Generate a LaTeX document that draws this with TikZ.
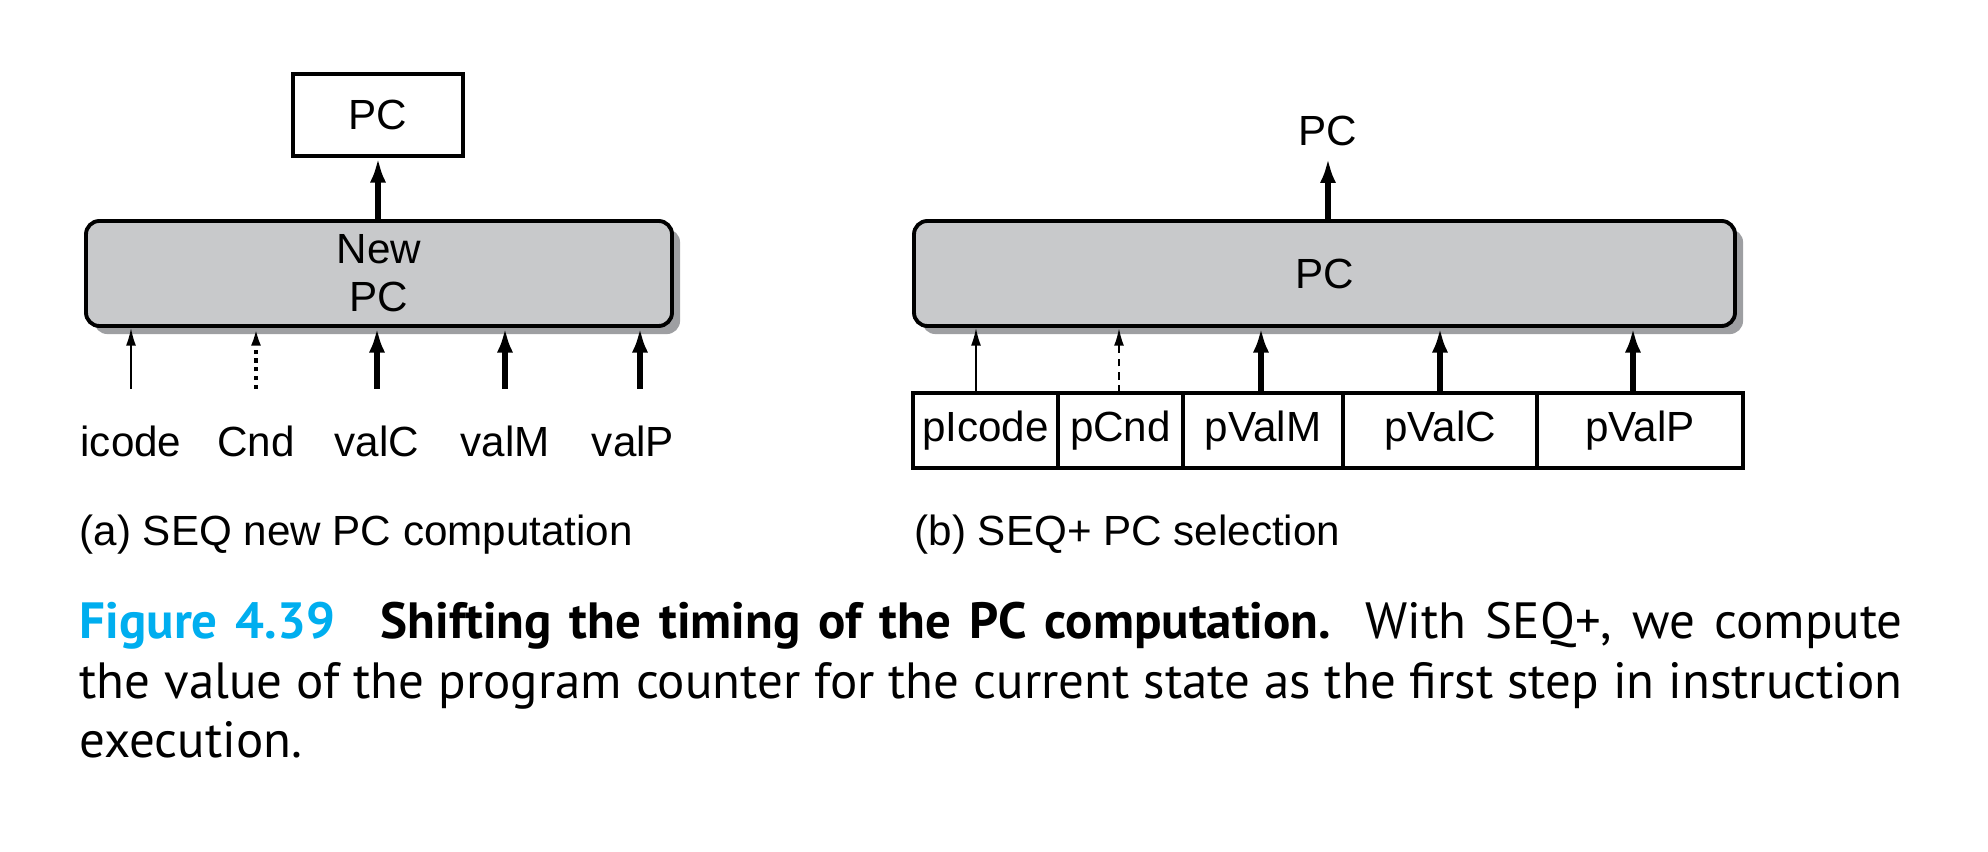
\documentclass[tikz,border=0pt]{standalone}
\usepackage{fontspec}
\setmainfont{Liberation Sans}
\newfontfamily\capfont{PT Sans}
\usetikzlibrary{arrows.meta,positioning,shadows}
\definecolor{figcyan}{RGB}{0,174,239}
\definecolor{unitgray}{RGB}{200,201,203}
\definecolor{shadegray}{RGB}{158,159,162}

\begin{document}
\begin{tikzpicture}[
font=\fontsize{12}{13.6}\selectfont,
unit/.style={rectangle, rounded corners=3.8pt, draw=black, fill=unitgray, line width=1.1pt, minimum height=1.05cm, inner sep=0pt, align=center, general shadow={fill=shadegray, shadow xshift=2.3pt, shadow yshift=-2.3pt}},
reg/.style={rectangle, draw=black, line width=1.1pt, minimum height=0.75cm, inner sep=0pt, outer sep=0pt},
wide/.style={-{Latex[length=7pt,width=4.6pt]}, line width=1.7pt},
narrow/.style={-{Latex[length=5pt,width=2.8pt]}, line width=0.5pt},
cond/.style={narrow, dash pattern=on 1.2pt off 1.3pt, line width=1.1pt},
caption/.style={anchor=base west, inner sep=0pt},
capfont/.style={font=\capfont\fontsize{14.5}{17}\selectfont},
]
\useasboundingbox (0,0) rectangle (19.88,-8.52);

% (a) SEQ
\node[rectangle, draw=black, line width=1.1pt, minimum width=1.70cm, minimum height=0.82cm] (pca) at (3.78,-1.15) {PC};
\node[unit, minimum width=5.86cm] (newpc) at (3.79,-2.735) {New\\PC};
\draw[wide] (newpc.north -| pca) -- (pca.south);
\coordinate (ai) at (1.31,-3.89);
\coordinate (ac) at (2.56,-3.89);
\coordinate (avc) at (3.77,-3.89);
\coordinate (avm) at (5.05,-3.89);
\coordinate (avp) at (6.40,-3.89);
\draw[narrow] (ai) -- (ai |- newpc.south);
\draw[cond] (ac) -- (ac |- newpc.south);
\draw[wide] (avc) -- (avc |- newpc.south);
\draw[wide] (avm) -- (avm |- newpc.south);
\draw[wide] (avp) -- (avp |- newpc.south);
\node (icode) at (1.31,-4.41) {icode};
\node (cnd) at (2.56,-4.41) {Cnd};
\node (valc) at (3.77,-4.41) {valC};
\node (valm) at (5.05,-4.41) {valM};
\node (valp) at (6.33,-4.41) {valP};
\node[caption] (capa) at (0.79,-5.46) {(a) SEQ new PC computation};

% (b) SEQ+
\node[unit, minimum width=8.21cm] (pcb) at (13.245,-2.735) {PC};
\node (pcout) at (13.28,-1.31) {PC};
\draw[wide] (pcb.north -| pcout) -- (pcout.south);
\node[reg, minimum width=1.45cm, anchor=north west] (picode) at (9.13,-3.93) {pIcode};
\node[reg, minimum width=1.25cm, right=0pt of picode] (pcnd) {pCnd};
\node[reg, minimum width=1.60cm, right=0pt of pcnd] (pvalm) {pValM};
\node[reg, minimum width=1.94cm, right=0pt of pvalm] (pvalc) {pValC};
\node[reg, minimum width=2.06cm, right=0pt of pvalc] (pvalp) {pValP};
\draw[narrow] ([xshift=-0.095cm]picode.north) -- ([xshift=-0.095cm]picode.north |- pcb.south);
\draw[narrow, dash pattern=on 2.2pt off 1.6pt, line width=0.6pt] ([xshift=-0.015cm]pcnd.north) -- ([xshift=-0.015cm]pcnd.north |- pcb.south);
\draw[wide] ([xshift=-0.02cm]pvalm.north) -- ([xshift=-0.02cm]pvalm.north |- pcb.south);
\draw[wide] (pvalc.north) -- (pvalc.north |- pcb.south);
\draw[wide] ([xshift=-0.07cm]pvalp.north) -- ([xshift=-0.07cm]pvalp.north |- pcb.south);
\node[caption] (capb) at (9.14,-5.46) {(b) SEQ+ PC selection};

% figure caption
\node[caption, capfont] (line1) at (0.79,-6.39) {\makebox[18.23cm][s]{{\bfseries\color{figcyan}Figure 4.39}\hspace*{13pt}{\bfseries Shifting the timing of the PC computation.} With SEQ+, we compute}};
\node[caption, capfont] (line2) at (0.79,-6.99) {\makebox[18.23cm][s]{the value of the program counter for the current state as the first step in instruction}};
\node[caption, capfont] (line3) at (0.79,-7.58) {execution.};
\end{tikzpicture}
\end{document}
